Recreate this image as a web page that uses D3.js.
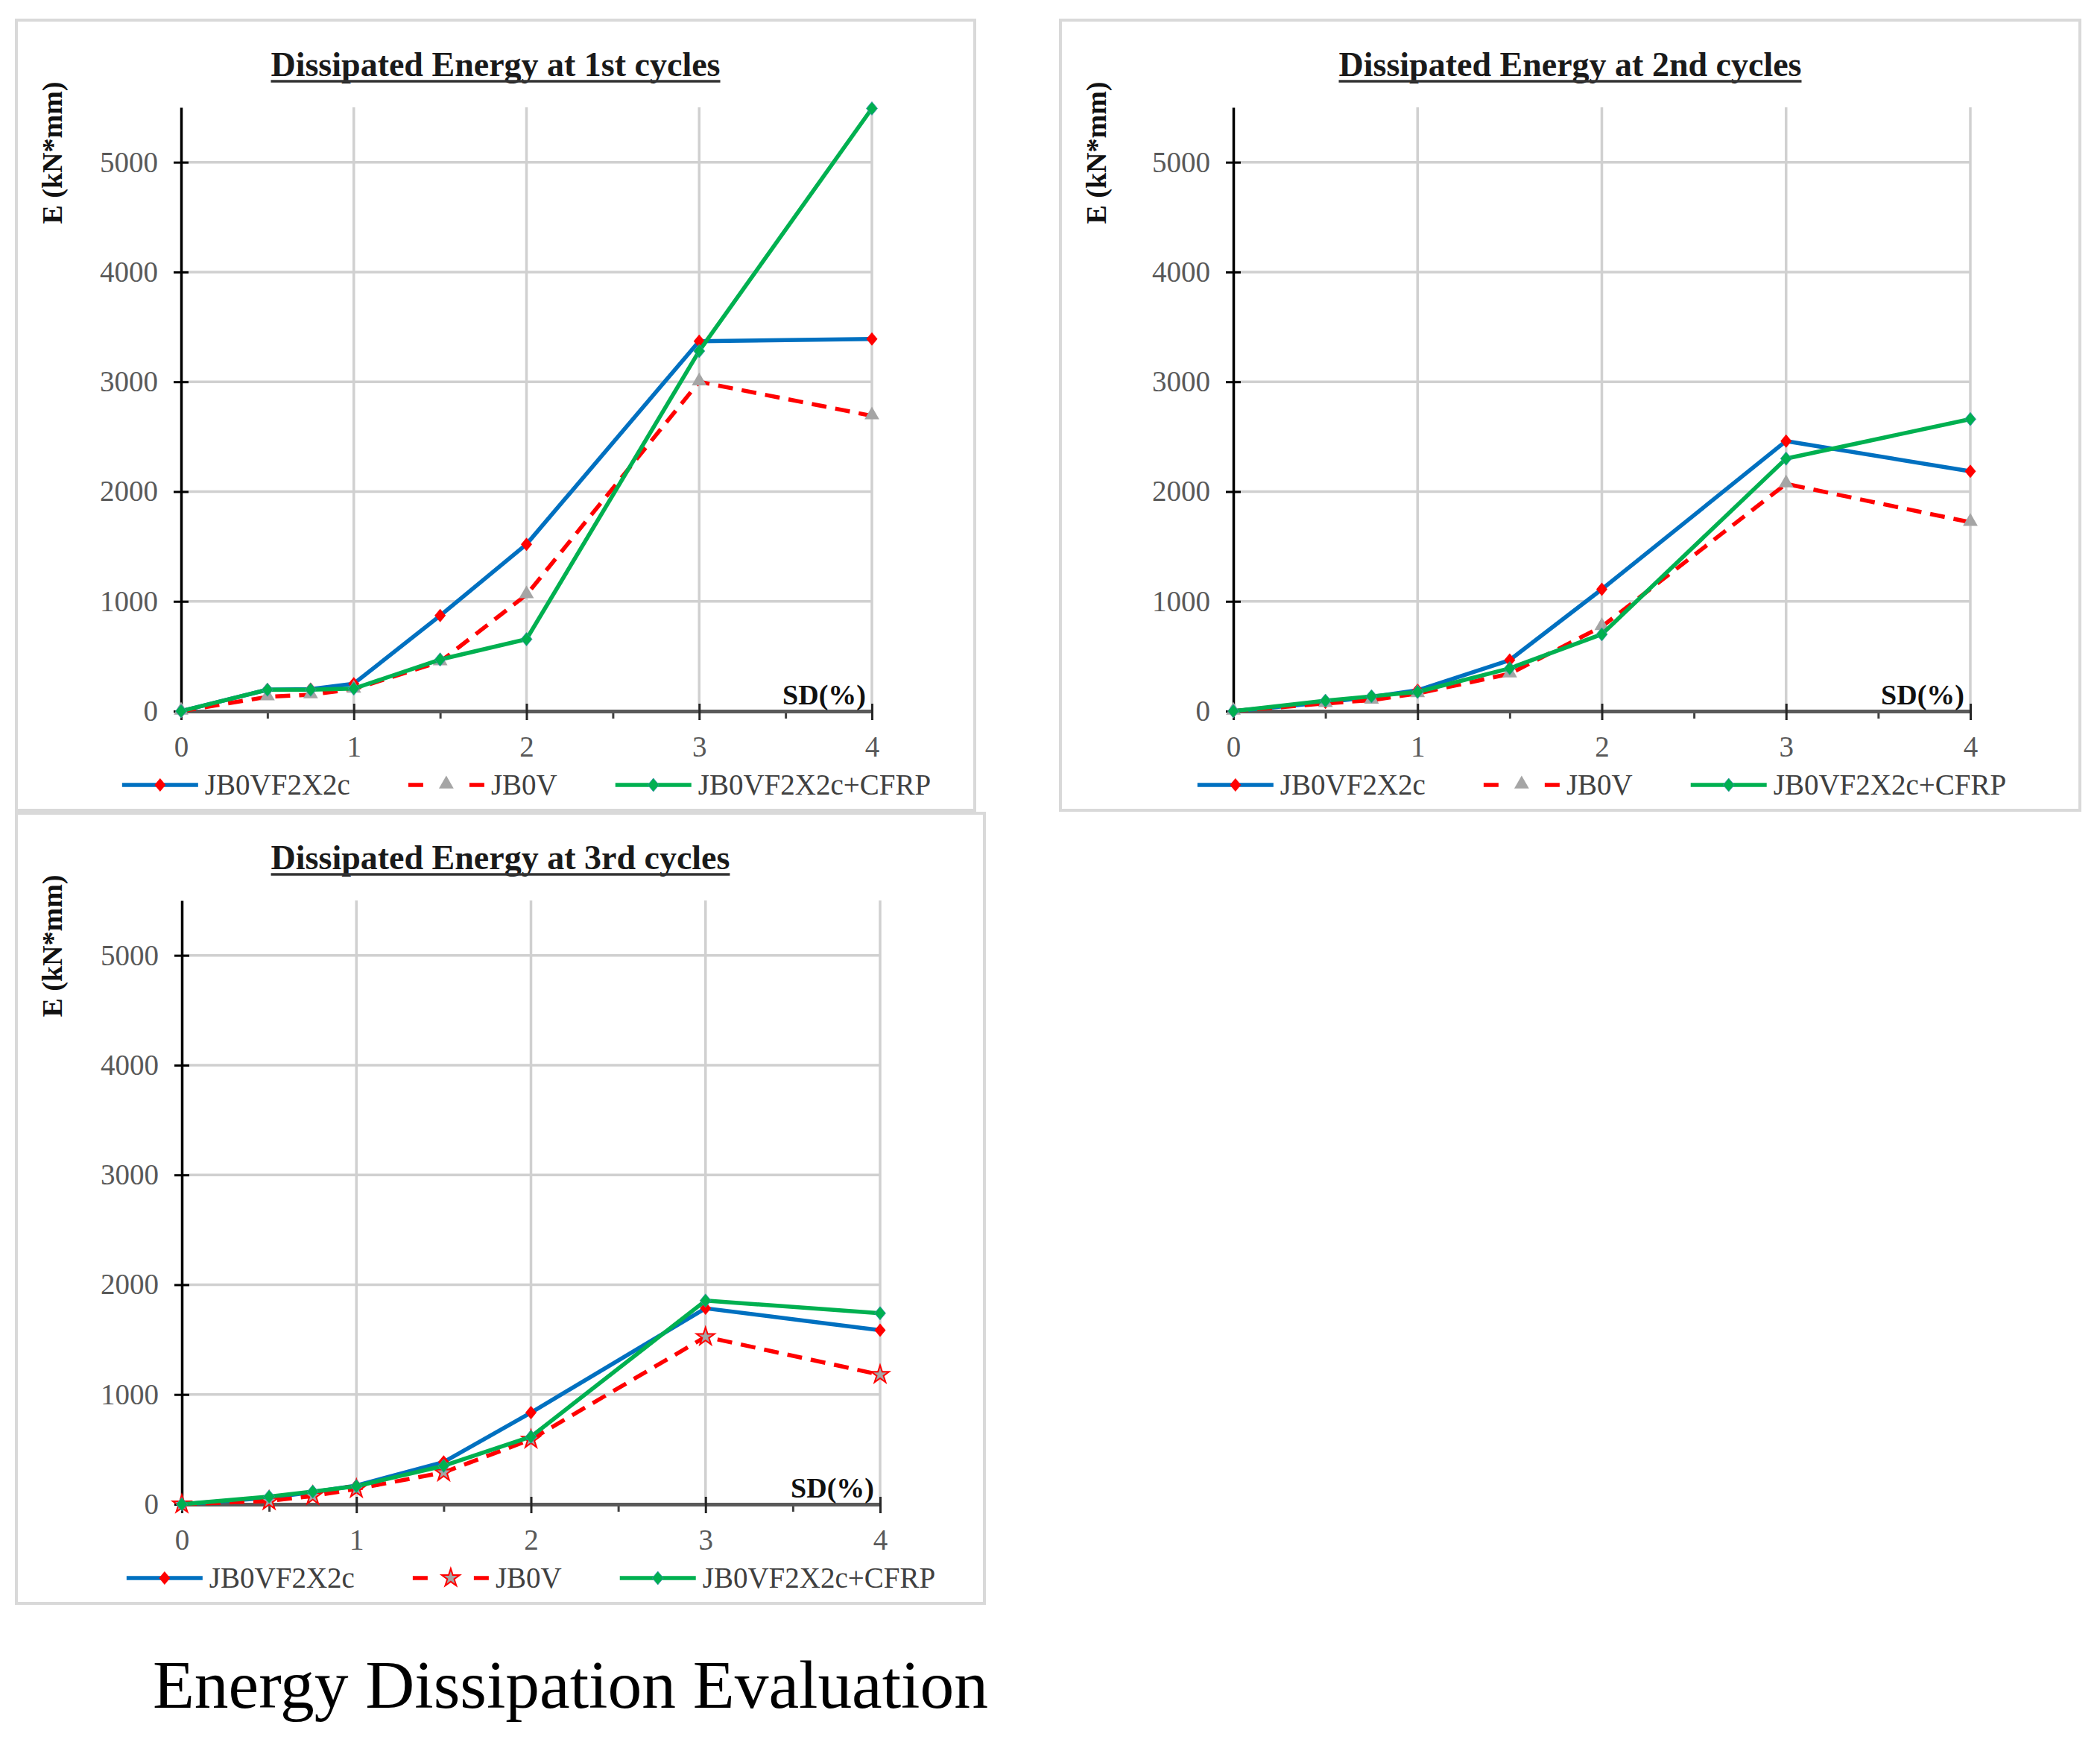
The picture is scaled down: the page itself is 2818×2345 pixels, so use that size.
<!DOCTYPE html>
<html>
<head>
<meta charset="utf-8">
<script src="https://cdn.jsdelivr.net/npm/d3@7"></script>
<style>
  body { margin: 0; background: #fff; }
  text { font-family: "Liberation Serif", "Times New Roman", serif; }
</style>
</head>
<body>
<div id="chart"></div>
<script>
// drift values (x axis), shared by every panel
var sdValues = [0, 0.5, 0.75, 1, 1.5, 2, 3, 4];
var seriesNames = ["JB0VF2X2c", "JB0V", "JB0VF2X2c+CFRP"];
var xTicks = [0, 1, 2, 3, 4];
var xMinorTicks = [0.5, 1.5, 2.5, 3.5];
var yTicks = [0, 1000, 2000, 3000, 4000, 5000];
var panelTitles = ["Dissipated Energy at 1st cycles", "Dissipated Energy at 2nd cycles", "Dissipated Energy at 3rd cycles"];

// dissipated energy, kN*mm
var cycle1_JB0VF2X2c = [0, 195, 200, 250, 870, 1520, 3370, 3390];
var cycle1_JB0V = [0, 130, 150, 200, 450, 1060, 3000, 2690];
var cycle1_CFRP = [0, 195, 195, 205, 470, 655, 3280, 5490];

var cycle2_JB0VF2X2c = [0, 80, 130, 190, 465, 1110, 2460, 2185];
var cycle2_JB0V = [0, 70, 100, 160, 340, 770, 2070, 1720];
var cycle2_CFRP = [0, 95, 135, 175, 390, 700, 2300, 2660];

var cycle3_JB0VF2X2c = [0, 60, 110, 170, 385, 835, 1785, 1585];
var cycle3_JB0V = [0, 30, 75, 140, 290, 590, 1525, 1180];
var cycle3_CFRP = [0, 70, 115, 165, 350, 615, 1855, 1740];

var W = 2818, H = 2345;

var svg = d3.select("#chart").append("svg")
    .attr("width", W)
    .attr("height", H);

svg.append("rect").attr("width", W).attr("height", H).attr("fill", "#fff");

// panel boxes and plot offsets
var panels = [
  { box: {x: 22, y: 27, w: 1286, h: 1060}, left: 221, right: 1148, star: false,
    values: [cycle1_JB0VF2X2c, cycle1_JB0V, cycle1_CFRP] },
  { box: {x: 1423, y: 27, w: 1368, h: 1060}, left: 232, right: 1221, star: false,
    values: [cycle2_JB0VF2X2c, cycle2_JB0V, cycle2_CFRP] },
  { box: {x: 22, y: 1091, w: 1299, h: 1060}, left: 222, right: 1159, star: true,
    values: [cycle3_JB0VF2X2c, cycle3_JB0V, cycle3_CFRP] }
];

var styles = [
  { stroke: "#0070C0", dash: null, marker: "diamondRed" },
  { stroke: "#FF0000", dash: "20,12", marker: "triangle" },
  { stroke: "#00B050", dash: null, marker: "diamondGreen" }
];

function diamondPath(w, h) {
  return "M0," + (-h / 2) + "L" + (w / 2) + ",0L0," + (h / 2) + "L" + (-w / 2) + ",0Z";
}

function drawMarker(g, kind, star, cx, cy) {
  if (kind === "diamondRed") {
    g.append("path").attr("d", diamondPath(15, 18))
      .attr("transform", "translate(" + cx + "," + cy + ")")
      .attr("fill", "#FF0000");
  } else if (kind === "diamondGreen") {
    g.append("path").attr("d", diamondPath(15, 18))
      .attr("transform", "translate(" + cx + "," + cy + ")")
      .attr("fill", "#00B050").attr("stroke", "#3a8fb0").attr("stroke-width", 0.8);
  } else if (star) {
    g.append("path").attr("d", d3.symbol(d3.symbolStar, 180)())
      .attr("transform", "translate(" + cx + "," + cy + ")")
      .attr("fill", "#A5A5A5").attr("stroke", "#FF0000").attr("stroke-width", 2);
  } else {
    g.append("path").attr("d", d3.symbol(d3.symbolTriangle, 170)())
      .attr("transform", "translate(" + cx + "," + (cy - 1) + ")")
      .attr("fill", "#A5A5A5");
  }
}

panels.forEach(function(p, i) {
  var b = p.box;
  var g = svg.append("g");

  g.append("rect")
    .attr("x", b.x).attr("y", b.y).attr("width", b.w).attr("height", b.h)
    .attr("fill", "#fff").attr("stroke", "#d9d9d9").attr("stroke-width", 4);

  var left = b.x + p.left, right = b.x + p.right;
  var bottom = b.y + 927, top = b.y + 117;

  var x = d3.scaleLinear().domain([0, 4]).range([left, right]);
  var y = d3.scaleLinear().domain([0, 5500]).range([bottom, top]);

  // gridlines
  g.selectAll(".hgrid").data(yTicks.filter(function(d) { return d > 0; }))
    .enter().append("line")
    .attr("x1", left).attr("x2", right)
    .attr("y1", function(d) { return y(d); }).attr("y2", function(d) { return y(d); })
    .attr("stroke", "#d0d0d0").attr("stroke-width", 3.5);

  g.selectAll(".vgrid").data(xTicks.filter(function(d) { return d > 0; }))
    .enter().append("line")
    .attr("x1", function(d) { return x(d); }).attr("x2", function(d) { return x(d); })
    .attr("y1", bottom).attr("y2", top)
    .attr("stroke", "#d0d0d0").attr("stroke-width", 3.5);

  // y axis
  var yAxis = d3.axisLeft(y).tickValues(yTicks).tickSize(10).tickSizeOuter(0)
      .tickPadding(21).tickFormat(d3.format("d"));
  var gy = g.append("g").attr("transform", "translate(" + left + ",0)").call(yAxis);
  gy.select(".domain").attr("stroke", "#000").attr("stroke-width", 3.5);
  gy.selectAll(".tick line").attr("x1", 10).attr("stroke", "#000").attr("stroke-width", 3);
  gy.selectAll(".tick text").attr("font-size", 39).attr("fill", "#595959")
    .attr("font-family", "Liberation Serif");

  // x axis
  var xMinor = d3.axisBottom(x).tickValues(xMinorTicks).tickSize(10).tickFormat("");
  var gxm = g.append("g").attr("transform", "translate(0," + bottom + ")").call(xMinor);
  gxm.select(".domain").remove();
  gxm.selectAll(".tick line").attr("stroke", "#404040").attr("stroke-width", 3);

  var xAxis = d3.axisBottom(x).tickValues(xTicks).tickSize(12).tickSizeOuter(0)
      .tickPadding(21).tickFormat(d3.format("d"));
  var gx = g.append("g").attr("transform", "translate(0," + bottom + ")").call(xAxis);
  gx.select(".domain").attr("stroke", "#595959").attr("stroke-width", 5);
  gx.selectAll(".tick line").attr("y1", -10).attr("stroke", "#262626").attr("stroke-width", 3);
  gx.selectAll(".tick text").attr("font-size", 39).attr("fill", "#595959")
    .attr("font-family", "Liberation Serif");

  // series
  var line = d3.line()
      .x(function(d) { return x(d[0]); })
      .y(function(d) { return y(d[1]); });

  p.values.forEach(function(vals, s) {
    var pts = sdValues.map(function(sd, k) { return [sd, vals[k]]; });
    var st = styles[s];
    g.append("path").datum(pts)
      .attr("d", line)
      .attr("fill", "none")
      .attr("stroke", st.stroke)
      .attr("stroke-width", 5.5)
      .attr("stroke-dasharray", st.dash)
      .attr("stroke-linejoin", "round");
    pts.forEach(function(pt) {
      drawMarker(g, st.marker, p.star, x(pt[0]), y(pt[1]));
    });
  });

  // SD(%) label
  g.append("text")
    .attr("x", right - 8).attr("y", bottom - 9)
    .attr("text-anchor", "end")
    .attr("font-size", 38).attr("font-weight", "bold").attr("fill", "#111")
    .text("SD(%)");

  // y label
  g.append("text")
    .attr("transform", "translate(" + (b.x + 61) + "," + (b.y + 178) + ") rotate(-90)")
    .attr("text-anchor", "middle")
    .attr("font-size", 38).attr("font-weight", "bold").attr("fill", "#111")
    .text("E (kN*mm)");

  // title with underline
  var title = g.append("text")
    .attr("x", b.x + b.w / 2).attr("y", b.y + 75)
    .attr("text-anchor", "middle")
    .attr("font-size", 46).attr("font-weight", "bold").attr("fill", "#1a1a1a")
    .text(panelTitles[i]);
  var tw = title.node().getComputedTextLength();
  g.append("line")
    .attr("x1", b.x + b.w / 2 - tw / 2).attr("x2", b.x + b.w / 2 + tw / 2)
    .attr("y1", b.y + 82).attr("y2", b.y + 82)
    .attr("stroke", "#333").attr("stroke-width", 3.5);

  // legend, centred under the plot
  var lg = g.append("g");
  var ly = b.y + 1026;
  var lineLen = 102, gap = 9, itemGap = 78;
  var cursor = 0;
  seriesNames.forEach(function(name, s) {
    var st = styles[s];
    lg.append("line")
      .attr("x1", cursor).attr("x2", cursor + lineLen)
      .attr("y1", ly).attr("y2", ly)
      .attr("stroke", st.stroke).attr("stroke-width", 5.5)
      .attr("stroke-dasharray", s === 1 ? "20,62" : null);
    drawMarker(lg, st.marker, p.star, cursor + lineLen / 2, ly);
    var t = lg.append("text")
      .attr("x", cursor + lineLen + gap).attr("y", ly + 13)
      .attr("font-size", 39).attr("fill", "#404040")
      .text(name);
    cursor += lineLen + gap + t.node().getComputedTextLength() + itemGap;
  });
  var total = cursor - itemGap;
  lg.attr("transform", "translate(" + ((left + right) / 2 - total / 2) + ",0)");
});

// figure caption
svg.append("text")
  .attr("x", 205).attr("y", 2291)
  .attr("font-size", 90).attr("fill", "#000")
  .attr("textLength", 1121).attr("lengthAdjust", "spacingAndGlyphs")
  .text("Energy Dissipation Evaluation");
</script>
</body>
</html>
